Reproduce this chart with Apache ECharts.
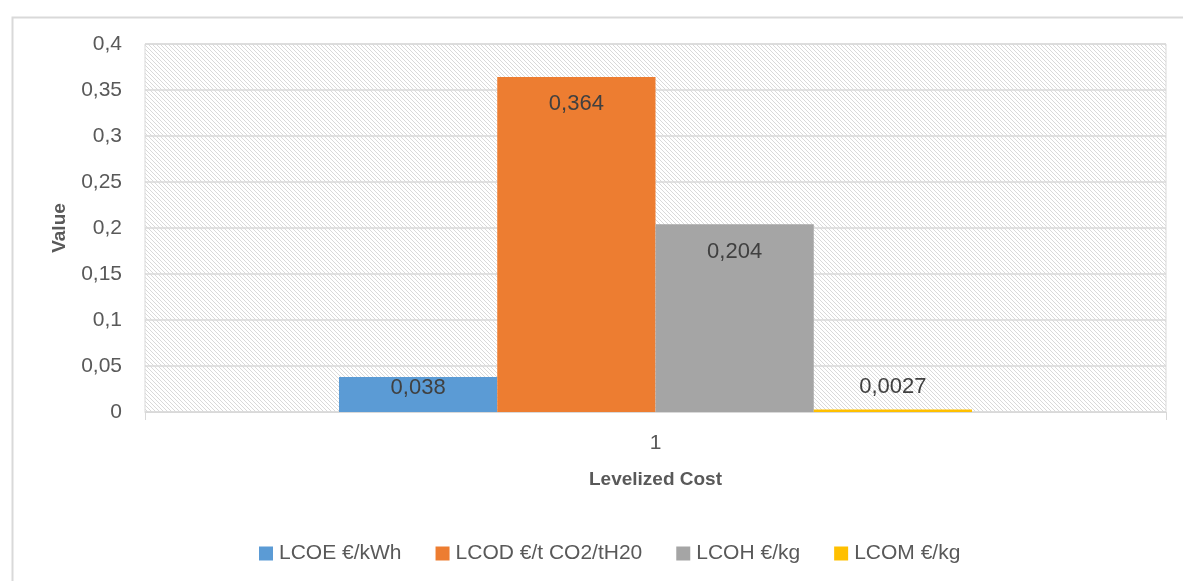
<!DOCTYPE html>
<html>
<head>
<meta charset="utf-8">
<script src="https://cdn.jsdelivr.net/npm/echarts@6/dist/echarts.min.js"></script>
<style>
  html, body { margin: 0; padding: 0; background: #ffffff; }
  #chart { width: 1183px; height: 581px; }
</style>
</head>
<body>
<div id="chart"></div>
<script>
// Levelized costs, one category with four series
const categories = ['1'];
const seriesNames = ['LCOE €/kWh', 'LCOD €/t CO2/tH20', 'LCOH €/kg', 'LCOM €/kg'];
const lcoe = [0.038];
const lcod = [0.364];
const lcoh = [0.204];
const lcom = [0.0027];
const seriesValues = [lcoe, lcod, lcoh, lcom];
const seriesColors = ['#5B9BD5', '#ED7D31', '#A5A5A5', '#FFC000'];

const FONT = '"Liberation Sans", "DejaVu Sans", sans-serif';
const comma = v => String(v).replace('.', ',');

// Diagonal hatch tile for the plot background
function hatchTile() {
  const c = document.createElement('canvas');
  c.width = 4; c.height = 4;
  const ctx = c.getContext('2d');
  ctx.fillStyle = '#ffffff';
  ctx.fillRect(0, 0, 4, 4);
  ctx.fillStyle = '#d9d9d9';
  for (let i = 0; i < 4; i++) ctx.fillRect(i, i, 1, 1);
  return c;
}

// label placement per series: small bars keep the label close to the top or above it
const labelPlacement = [
  { position: 'insideTop', distance: 0 },
  { position: 'insideTop', distance: 16 },
  { position: 'insideTop', distance: 17 },
  { position: 'top', distance: 12 }
];

const chart = echarts.init(document.getElementById('chart'), null, { renderer: 'canvas' });

chart.setOption({
  animation: false,
  backgroundColor: '#ffffff',
  textStyle: { fontFamily: FONT },
  graphic: [{
    type: 'rect',
    left: 10, top: 15,
    shape: { width: 1200, height: 600 },
    style: { fill: 'none', stroke: '#d9d9d9', lineWidth: 2 },
    silent: true
  }],
  grid: {
    left: 145, right: 17, top: 44, bottom: 169,
    show: true,
    backgroundColor: { image: hatchTile(), repeat: 'repeat' },
    borderColor: '#d9d9d9',
    borderWidth: 1
  },
  legend: {
    data: seriesNames,
    left: 254,
    top: 538,
    itemWidth: 14,
    itemHeight: 14,
    itemGap: 34,
    icon: 'rect',
    textStyle: { fontFamily: FONT, fontSize: 21, color: '#595959', padding: [0, 0, 0, 1] }
  },
  xAxis: {
    type: 'category',
    data: categories,
    name: 'Levelized Cost',
    nameLocation: 'middle',
    nameGap: 58,
    nameTextStyle: { fontFamily: FONT, fontSize: 19, fontWeight: 'bold', color: '#595959' },
    axisLine: { show: true, lineStyle: { color: '#d9d9d9', width: 1 } },
    axisTick: { show: true, length: 8, lineStyle: { color: '#d9d9d9' } },
    axisLabel: { fontFamily: FONT, fontSize: 21, color: '#595959', margin: 21 }
  },
  yAxis: {
    type: 'value',
    min: 0, max: 0.4, interval: 0.05,
    name: 'Value',
    nameLocation: 'middle',
    nameGap: 76,
    nameTextStyle: { fontFamily: FONT, fontSize: 19, fontWeight: 'bold', color: '#595959' },
    axisLine: { show: false },
    axisTick: { show: false },
    axisLabel: {
      fontFamily: FONT, fontSize: 21, color: '#595959', margin: 23,
      formatter: v => comma(+v.toFixed(2))
    },
    splitLine: { show: true, lineStyle: { color: '#d9d9d9', width: 1.5 } }
  },
  series: seriesNames.map((name, i) => ({
    name: name,
    type: 'bar',
    data: seriesValues[i],
    barGap: '0%',
    barCategoryGap: '38%',
    itemStyle: { color: seriesColors[i] },
    label: {
      show: true,
      position: labelPlacement[i].position,
      distance: labelPlacement[i].distance,
      fontFamily: FONT,
      fontSize: 22,
      color: '#404040',
      formatter: p => comma(p.value)
    }
  }))
});
</script>
</body>
</html>
